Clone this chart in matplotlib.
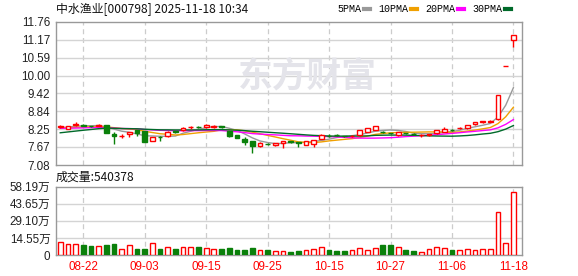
# K-line chart of 中水渔业 (000798) with moving averages and volume

import numpy as np
import pandas as pd
import matplotlib
matplotlib.use('Agg')
import matplotlib.pyplot as plt
from matplotlib.lines import Line2D

plt.rcParams['font.family'] = ['Liberation Sans', 'Noto Sans CJK SC']

# Trading days shown
dates = ["08-19", "08-20", "08-21", "08-22", "08-25", "08-26", "08-27", "08-28", "08-29", "09-01",
         "09-02", "09-03", "09-04", "09-05", "09-08", "09-09", "09-10", "09-11", "09-12", "09-15",
         "09-16", "09-17", "09-18", "09-19", "09-22", "09-23", "09-24", "09-25", "09-26", "09-29",
         "09-30", "10-09", "10-10", "10-13", "10-14", "10-15", "10-16", "10-17", "10-20", "10-21",
         "10-22", "10-23", "10-24", "10-27", "10-28", "10-29", "10-30", "10-31", "11-03", "11-04",
         "11-05", "11-06", "11-07", "11-10", "11-11", "11-12", "11-13", "11-14", "11-17", "11-18"]

opens = [8.33, 8.27, 8.40, 8.39, 8.35, 8.37, 8.40, 8.09, 8.02, 8.09,
         8.21, 8.18, 7.87, 7.99, 8.02, 8.18, 8.21, 8.31, 8.32, 8.31,
         8.33, 8.34, 8.18, 8.05, 7.94, 7.87, 7.70, 7.78, 7.72, 7.81,
         7.87, 7.82, 7.74, 7.77, 7.94, 8.04, 8.07, 8.03, 8.02, 8.05,
         8.16, 8.22, 8.16, 8.12, 8.05, 8.12, 8.09, 8.06, 8.07, 8.11,
         8.16, 8.23, 8.28, 8.30, 8.43, 8.47, 8.50, 8.57, 10.30, 11.16]
highs = [8.40, 8.36, 8.47, 8.41, 8.37, 8.43, 8.40, 8.16, 8.09, 8.17,
         8.22, 8.20, 8.01, 8.02, 8.18, 8.20, 8.33, 8.36, 8.35, 8.43,
         8.40, 8.37, 8.19, 8.06, 8.00, 7.88, 7.83, 7.80, 7.80, 7.86,
         7.88, 7.83, 7.87, 7.90, 8.08, 8.08, 8.10, 8.04, 8.05, 8.23,
         8.30, 8.37, 8.19, 8.14, 8.17, 8.14, 8.11, 8.08, 8.10, 8.23,
         8.31, 8.26, 8.32, 8.40, 8.48, 8.53, 8.55, 9.36, 10.30, 11.33]
lows = [8.28, 8.26, 8.37, 8.35, 8.32, 8.35, 8.13, 7.77, 7.96, 8.00,
        8.03, 7.83, 7.85, 7.86, 7.99, 8.11, 8.20, 8.27, 8.29, 8.30,
        8.30, 8.30, 7.98, 7.95, 7.74, 7.48, 7.66, 7.73, 7.71, 7.64,
        7.81, 7.68, 7.72, 7.68, 7.92, 8.00, 8.02, 8.00, 8.01, 8.04,
        8.15, 8.21, 8.12, 8.09, 8.04, 8.08, 8.06, 7.98, 8.03, 8.10,
        8.15, 8.19, 8.26, 8.27, 8.38, 8.44, 8.47, 8.56, 10.30, 10.94]
closes = [8.34, 8.35, 8.41, 8.37, 8.34, 8.38, 8.14, 8.03, 8.03, 8.16,
          8.11, 7.84, 8.00, 7.98, 8.15, 8.16, 8.30, 8.32, 8.31, 8.40,
          8.34, 8.32, 8.03, 7.96, 7.83, 7.70, 7.81, 7.77, 7.79, 7.85,
          7.83, 7.80, 7.85, 7.89, 8.05, 8.03, 8.06, 8.02, 8.03, 8.22,
          8.29, 8.35, 8.15, 8.11, 8.15, 8.11, 8.08, 8.07, 8.08, 8.22,
          8.27, 8.22, 8.29, 8.39, 8.47, 8.52, 8.51, 9.36, 10.30, 11.33]

# closes before the window, only used for the moving averages
pre_closes = [7.52, 7.58, 7.55, 7.60, 7.57, 7.62, 8.18, 8.25, 8.30, 8.22,
              8.28, 8.31, 8.24, 8.20, 8.26, 8.29, 8.33, 8.27, 8.22, 8.25,
              8.30, 8.28, 8.24, 8.27, 8.31, 8.29, 8.26, 8.30, 8.33]

# volume in 万 shares
vol_wan = [10.8, 9.1, 9.1, 8.5, 7.7, 7.4, 8.5, 9.4, 5.1, 8.2,
           5.1, 5.1, 9.9, 5.1, 6.5, 5.1, 6.5, 6.5, 6.8, 5.7,
           5.1, 5.1, 6.0, 4.3, 4.3, 6.0, 4.0, 4.0, 3.1, 3.1,
           2.3, 3.1, 4.0, 4.8, 6.5, 4.0, 3.1, 3.1, 4.0, 5.7,
           4.0, 5.7, 8.5, 8.5, 6.5, 4.0, 3.1, 2.8, 4.8, 6.5,
           5.7, 4.0, 4.0, 4.8, 4.0, 4.8, 4.8, 36.3, 10.5, 54.0378]

price_ticks = [7.08, 7.67, 8.25, 8.84, 9.42, 10.00, 10.59, 11.17, 11.76]
vol_ticks = [0, 14.55, 29.10, 43.65, 58.19]
vol_labels = ["0", "14.55万", "29.10万", "43.65万", "58.19万"]
ma_periods = [5, 10, 20, 30]
ma_colors = ['#999999', '#f0a000', '#ff00ff', '#006a2a']

RED = '#ff0000'
GREEN = '#0a800a'
GRID = '#d4d4d4'
SPINE = '#999999'

x = np.arange(len(dates))
o = np.array(opens)
h = np.array(highs)
l = np.array(lows)
c = np.array(closes)
up = c >= o
colors = np.where(up, RED, GREEN)

all_close = pd.Series(pre_closes + closes)
mas = [all_close.rolling(n).mean().values[-len(closes):] for n in ma_periods]

fig = plt.figure(figsize=(5.78, 2.76), dpi=100)
ax = fig.add_axes([56/578, 1 - 165/276, 466/578, 143.3/276])
axv = fig.add_axes([56/578, 21/276, 466/578, 68.3/276])

tick_idx = list(range(3, len(dates), 8))

for a in (ax, axv):
    a.set_xlim(-0.55, 60.12)
    for s in a.spines.values():
        s.set_color(SPINE)
        s.set_linewidth(1)
    a.tick_params(length=0, labelsize=8.4, colors='#222222', pad=4)
    for t in tick_idx:
        a.axvline(t, color='#cccccc', lw=0.9, ls=(0, (4, 3)), zorder=0)

# price panel
ax.set_ylim(7.08, 11.76)
ax.set_yticks(price_ticks)
ax.set_yticklabels([f"{v:.2f}" for v in price_ticks])
for v in price_ticks[1:-1]:
    ax.axhline(v, color=GRID, lw=1, zorder=0)
ax.set_xticks([])

ax.text(0.54, 0.62, "东方财富", transform=ax.transAxes, fontsize=25, fontweight='bold',
        color='#e4e4ea', ha='center', va='center', family=['Noto Sans CJK SC'], zorder=0)

for i, m in enumerate(mas):
    ax.plot(x, m, color=ma_colors[i], lw=1, zorder=2)

w = 0.62
ax.vlines(x, l, h, colors=colors, lw=1, zorder=3)
body_bottom = np.minimum(o, c)
body_h = np.maximum(np.abs(c - o), 0.004)
ax.bar(x[up], body_h[up], w, bottom=body_bottom[up], facecolor='white',
       edgecolor=RED, lw=1, zorder=4)
ax.bar(x[~up], body_h[~up], w, bottom=body_bottom[~up], facecolor=GREEN,
       edgecolor=GREEN, lw=1, zorder=4)

# volume panel
axv.set_ylim(0, 58.19)
axv.set_yticks(vol_ticks)
axv.set_yticklabels(vol_labels)
for v in vol_ticks[1:-1]:
    axv.axhline(v, color=GRID, lw=1, zorder=0)
vol = np.array(vol_wan)
axv.bar(x[up], vol[up], w, facecolor='white', edgecolor=RED, lw=1, zorder=3)
axv.bar(x[~up], vol[~up], w, facecolor=GREEN, edgecolor=GREEN, lw=1, zorder=3)
axv.set_xticks(tick_idx)
axv.set_xticklabels([dates[i] for i in tick_idx], color=RED)

# texts
fig.text(56/578, 1 - 9/276, "中水渔业[000798] 2025-11-18 10:34", fontsize=8.6,
         family=['Noto Sans CJK SC', 'DejaVu Sans'], va='center', ha='left', color='#111111')
fig.text(56/578, 1 - 177/276, "成交量:%d" % round(vol_wan[-1] * 10000), fontsize=8.6,
         family=['Noto Sans CJK SC', 'DejaVu Sans'], va='center', ha='left', color='#111111')

handles = [Line2D([], [], color=ma_colors[i], lw=3) for i in range(4)]
labels = ["%dPMA" % n for n in ma_periods]
fig.legend(handles, labels, loc='center', bbox_to_anchor=(424/578, 1 - 9/276), ncol=4,
           frameon=False, markerfirst=False, handlelength=0.6, handletextpad=0.3,
           columnspacing=0.8, prop={'family': 'Liberation Mono', 'size': 7.2})

fig.savefig('out.png', dpi=100)
